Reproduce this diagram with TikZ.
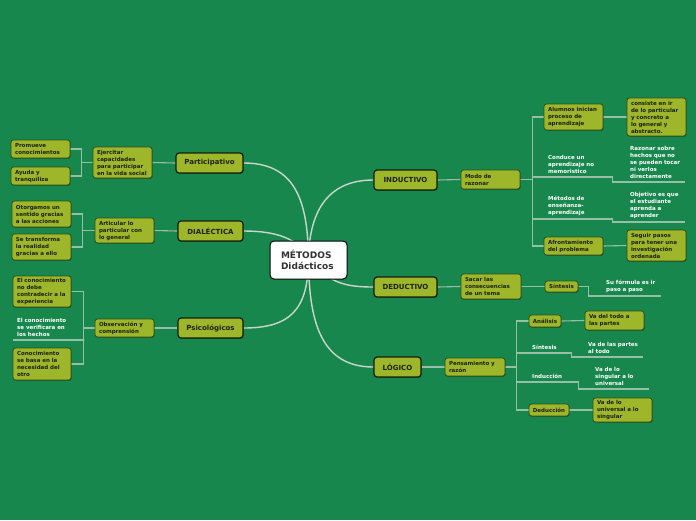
\documentclass[tikz,border=0pt]{standalone}
\usepackage{fontspec}
\setmainfont{DejaVu Sans}
\usetikzlibrary{backgrounds,shadows}
\definecolor{bgc}{RGB}{24,135,77}
\definecolor{olivec}{RGB}{157,182,42}
\definecolor{subline}{RGB}{52,78,22}
\definecolor{topicline}{RGB}{22,30,14}
\definecolor{boxtext}{RGB}{30,34,18}
\definecolor{connc}{RGB}{150,192,165}
\definecolor{curvec}{RGB}{200,214,205}
\definecolor{centext}{RGB}{50,50,50}
\tikzset{
  shad/.style={drop shadow={shadow xshift=0.6pt, shadow yshift=-0.8pt, opacity=0.35, fill=black}},
  box/.style={draw=subline, fill=olivec, rounded corners=2.5pt, line width=0.8pt,
    font=\fontsize{5.5}{7}\selectfont\bfseries, text=boxtext, align=left,
    inner xsep=4pt, inner ysep=0pt, shad},
  bx/.style 2 args={box, text width=#1, minimum height=#2},
  smallbx/.style 2 args={box, align=center, inner xsep=0pt, minimum width=#1, minimum height=#2},
  topic/.style 2 args={draw=topicline, fill=olivec, rounded corners=3pt, line width=1.2pt,
    font=\fontsize{7}{8}\selectfont\bfseries, text=boxtext, inner sep=0pt,
    minimum width=#1, minimum height=#2, shad},
  note/.style={font=\fontsize{5.5}{7}\selectfont\bfseries, text=white, align=left,
    inner xsep=4pt, inner ysep=3.5pt, anchor=south west, text width=#1},
  conn/.style={draw=connc, line width=1.1pt},
  curve/.style={draw=curvec, line width=1.4pt},
}
\begin{document}
\begin{tikzpicture}[x=1pt,y=-1pt]
\begin{pgfonlayer}{background}
\fill[bgc] (0,0) rectangle (696,520);
\end{pgfonlayer}
\useasboundingbox (0,0) rectangle (696,520);

% central
\node[draw=black, fill=white, rounded corners=4pt, line width=1pt, minimum width=77pt,
  minimum height=38pt, text width=55pt, inner xsep=11pt, align=left,
  font=\fontsize{9}{11}\selectfont\bfseries, text=centext] (cen) at (308.5,260) {MÉTODOS\\Didácticos};

% left topics
\node[topic={67pt}{20pt}] (part) at (209.5,163) {Participativo};
\node[topic={65pt}{20pt}] (dial) at (210.5,231) {DIALÉCTICA};
\node[topic={65pt}{20pt}] (psic) at (210.5,328) {Psicológicos};

\node[bx={51pt}{31pt}] (ejer) at (122.5,162.5) {Ejercitar\\capacidades\\para participar\\en la vida social};
\node[bx={51pt}{18pt}] (prom) at (40.5,149) {Promueve\\conocimientos};
\node[bx={51pt}{18pt}] (ayuda) at (40.5,176) {Ayuda y\\tranquiliza};

\node[bx={51pt}{25pt}] (artic) at (124.5,230.5) {Articular lo\\particular con\\lo general};
\node[bx={51pt}{26pt}] (otorg) at (41.5,214) {Otorgamos un\\sentido gracias\\a las acciones};
\node[bx={51pt}{26pt}] (setra) at (41.5,247) {Se transforma\\la realidad\\gracias a ello};

\node[bx={51pt}{18pt}] (obs) at (124.5,328) {Observación y\\comprensión};
\node[bx={50pt}{31pt}] (elcon) at (42,291.5) {El conocimiento\\no debe\\contradecir a la\\experiencia};
\node[note={63pt}] (verif) at (13,340) {El conocimiento\\se verificara en\\los hechos};
\node[bx={50pt}{32pt}] (conoc) at (42,364) {Conocimiento\\se basa en la\\necesidad del\\otro};

% right topics
\node[topic={63pt}{20pt}] (ind) at (405.5,180) {INDUCTIVO};
\node[topic={63pt}{20pt}] (ded) at (405.5,287) {DEDUCTIVO};
\node[topic={47pt}{20pt}] (log) at (397.5,367) {LÓGICO};

\node[bx={51pt}{19pt}] (modo) at (490.5,179.5) {Modo de\\razonar};
\node[bx={51pt}{26pt}] (alum) at (573.5,117) {Alumnos inician\\proceso de\\aprendizaje};
\node[bx={51pt}{38pt}] (consis) at (656.5,117) {consiste en ir\\de lo particular\\y concreto a\\lo general y\\abstracto.};
\node[note={60pt}] (conduce) at (544,177) {Conduce un\\aprendizaje no\\memoristico};
\node[note={51pt}] (razonar) at (626,182) {Razonar sobre\\hechos que no\\se pueden tocar\\ni verlos\\directamente};
\node[note={60pt}] (metodos) at (544,219) {Métodos de\\enseñanza-\\aprendizaje};
\node[note={51pt}] (objetivo) at (626,222) {Objetivo es que\\el estudiante\\aprenda a\\aprender};
\node[bx={51pt}{18pt}] (afr) at (573.5,246) {Afrontamiento\\del problema};
\node[bx={51pt}{31pt}] (seguir) at (656.5,245.5) {Seguir pasos\\para tener una\\investigación\\ordenada};

\node[bx={52pt}{25pt}] (sacar) at (491,286.5) {Sacar las\\consecuencias\\de un tema};
\node[smallbx={33pt}{11pt}] (sint1) at (561.5,286.5) {Síntesis};
\node[note={51pt}] (formula) at (602,296) {Su fórmula es ir\\paso a paso};

\node[bx={52pt}{18pt}] (pens) at (475,367) {Pensamiento y\\razón};
\node[smallbx={32pt}{12pt}] (anal) at (545,321) {Análisis};
\node[bx={51pt}{19pt}] (vadel) at (614.5,320.5) {Va del todo a\\las partes};
\node[note={35pt}] (sint2) at (528,353) {Síntesis};
\node[note={51pt}] (vapartes) at (584,357) {Va de las partes\\al todo};
\node[note={42pt}] (induc) at (528,382) {Inducción};
\node[note={50pt}] (vasing) at (591,389) {Va de lo\\singular a lo\\universal};
\node[smallbx={40pt}{12pt}] (deduc) at (549,410) {Deducción};
\node[bx={51pt}{24pt}] (vauniv) at (622.5,410) {Va de lo\\universal a lo\\singular};

\begin{pgfonlayer}{background}
% central curves
\draw[curve] (part.east) .. controls (295,163) and (308,200) .. (cen.center);
\draw[curve] (dial.east) .. controls (275,231) and (300,238) .. (cen.center);
\draw[curve] (psic.east) .. controls (290,328) and (308,310) .. (cen.center);
\draw[curve] (ind.west) .. controls (325,180) and (309,215) .. (cen.center);
\draw[curve] (ded.west) .. controls (345,287) and (330,283) .. (cen.center);
\draw[curve] (log.west) .. controls (320,367) and (309,320) .. (cen.center);
% left trees
\draw[conn] (part.west) -- (ejer.east);
\draw[conn] (ejer.west) -- ++(-11,0) |- (prom.east);
\draw[conn] (ejer.west) -- ++(-11,0) |- (ayuda.east);
\draw[conn] (dial.west) -- (artic.east);
\draw[conn] (artic.west) -- ++(-12,0) |- (otorg.east);
\draw[conn] (artic.west) -- ++(-12,0) |- (setra.east);
\draw[conn] (psic.west) -- (obs.east);
\draw[conn] (obs.west) -- ++(-11,0) |- (elcon.east);
\draw[conn] (obs.west) -- ++(-11,0) |- (conoc.east);
\draw[conn] (obs.west) -- ++(-11,0) |- (verif.south east) -- (verif.south west);
% right trees
\draw[conn] (ind.east) -- (modo.west);
\draw[conn] (modo.east) -- ++(12,0) |- (alum.west);
\draw[conn] (alum.east) -- (consis.west);
\draw[conn] (modo.east) -- ++(12,0) |- (conduce.south west) -- (conduce.south east) |- (razonar.south west) -- (razonar.south east);
\draw[conn] (modo.east) -- ++(12,0) |- (metodos.south west) -- (metodos.south east) |- (objetivo.south west) -- (objetivo.south east);
\draw[conn] (modo.east) -- ++(12,0) |- (afr.west);
\draw[conn] (afr.east) -- (seguir.west);
\draw[conn] (ded.east) -- (sacar.west);
\draw[conn] (sacar.east) -- (sint1.west);
\draw[conn] (sint1.east) -- ++(10,0) |- (formula.south west) -- (formula.south east);
\draw[conn] (log.east) -- (pens.west);
\draw[conn] (pens.east) -- ++(11,0) |- (anal.west);
\draw[conn] (anal.east) -- (vadel.west);
\draw[conn] (pens.east) -- ++(11,0) |- (sint2.south west) -- (sint2.south east) |- (vapartes.south west) -- (vapartes.south east);
\draw[conn] (pens.east) -- ++(11,0) |- (induc.south west) -- (induc.south east) |- (vasing.south west) -- (vasing.south east);
\draw[conn] (pens.east) -- ++(11,0) |- (deduc.west);
\draw[conn] (deduc.east) -- (vauniv.west);
\end{pgfonlayer}
\end{tikzpicture}
\end{document}
